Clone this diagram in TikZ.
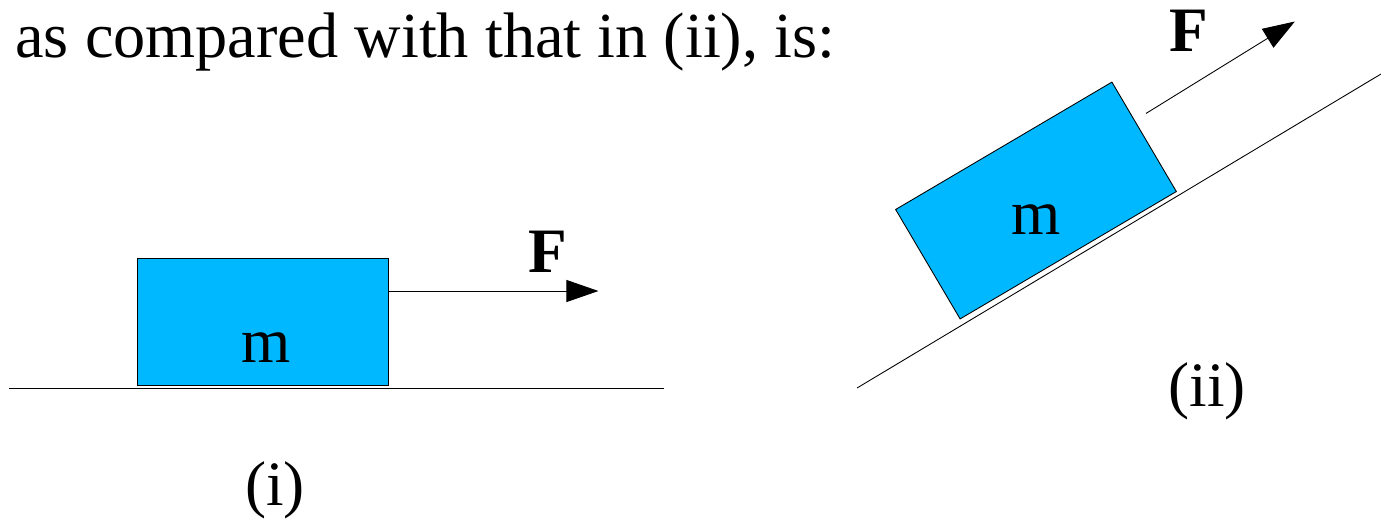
\documentclass[tikz,border=0pt]{standalone}
\usepackage{fontspec}
\setmainfont{Liberation Serif}
\usetikzlibrary{calc,arrows.meta}
\definecolor{BlockBlue}{HTML}{00B8FF}

\begin{document}
\begin{tikzpicture}[
      block/.style={
        rectangle,
        draw=black,
        fill=BlockBlue,
        line width=0.5pt,
        inner sep=0pt,
        minimum width=5.02cm,
        minimum height=2.54cm
      },
      lbl/.style={inner sep=0pt,font=\fontsize{36}{43}\selectfont},
      force/.style={-{Triangle[length=0.64cm,width=0.44cm]},line width=0.5pt},
      ground/.style={line width=0.5pt}
    ]
      \useasboundingbox (0,0) rectangle (27.62,-10.38);
      \node[lbl,anchor=base west,font=\fontsize{36.6}{44}\selectfont] (q) at (0.3,-1.14) {as compared with that in (ii), is:};
      % (i) horizontal floor
      \coordinate (g1a) at (0.18,-7.76);
      \coordinate (g1b) at (13.28,-7.76);
      \draw[ground] (g1a) -- (g1b);
      \node[block] (b1) at (5.25,-6.43) {};
      \node[lbl] (m1) at (5.32,-6.96) {m};
      \coordinate (f1s) at ([yshift=0.61cm]b1.east);
      \coordinate (f1e) at ([xshift=4.2cm]f1s);
      \draw[force] (f1s) -- (f1e);
      \node[lbl] (F1) at (10.96,-5.04) {\bfseries F};
      \node[lbl] (c1) at (5.50,-9.80) {(i)};
      % (ii) incline
      \coordinate (g2a) at (17.14,-7.76);
      \coordinate (g2b) at (27.62,-1.48);
      \draw[ground] (g2a) -- (g2b);
      \node[block,rotate=30.5] (b2) at (20.72,-4.01) {};
      \node[lbl] (m2) at (20.73,-4.40) {m};
      \coordinate (f2s) at ($(b2.east)!0.3!(b2.north east)+(30.5:0.26)$);
      \coordinate (f2e) at ($(f2s)+(31.7:3.5)$);
      \draw[force] (f2s) -- (f2e);
      \node[lbl] (F2) at (23.78,-0.62) {\bfseries F};
      \node[lbl] (c2) at (24.14,-7.82) {(ii)};
    \end{tikzpicture}
\end{document}
